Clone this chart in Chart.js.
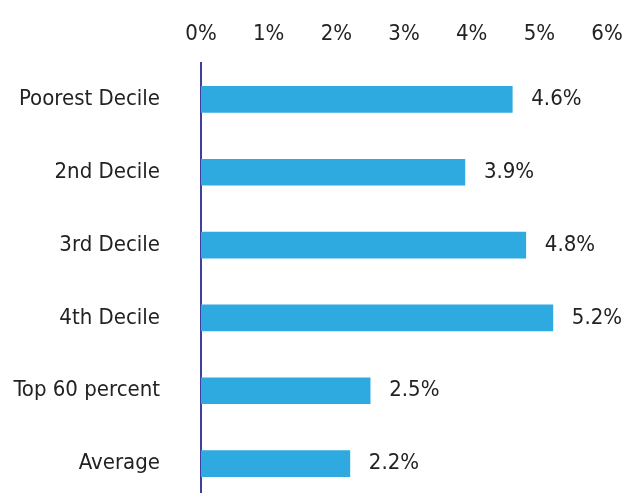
<!DOCTYPE html>
<html>
<head>
<meta charset="utf-8">
<script src="https://cdn.jsdelivr.net/npm/chart.js@4/dist/chart.umd.min.js"></script>
<style>
  html, body { margin: 0; padding: 0; background: #fff; overflow: hidden; }
  #wrap { width: 629px; height: 500px; }
</style>
</head>
<body>
<div id="wrap"><canvas id="bars"></canvas></div>
<script>
var categories = ['Poorest Decile', '2nd Decile', '3rd Decile', '4th Decile', 'Top 60 percent', 'Average'];
var values = [4.6, 3.9, 4.8, 5.2, 2.5, 2.2];
var tickLabels = ['0%', '1%', '2%', '3%', '4%', '5%', '6%'];

var FONT = '"Liberation Sans Narrow", "DejaVu Sans Condensed", "Roboto", sans-serif';

// draws the value text to the right of each bar
var valueLabels = {
  id: 'valueLabels',
  afterDatasetsDraw: function(chart) {
    var ctx = chart.ctx;
    var meta = chart.getDatasetMeta(0);
    ctx.save();
    ctx.font = '22px ' + FONT;
    ctx.fillStyle = '#222';
    ctx.textAlign = 'left';
    ctx.textBaseline = 'middle';
    meta.data.forEach(function(bar, i) {
      ctx.fillText(values[i].toFixed(1) + '%', bar.x + 19, bar.y);
    });
    ctx.restore();
  }
};

function printBarChart() {
  var ctx = document.getElementById('bars');
  var mychart = new Chart(ctx, {
    type: 'bar',
    data: {
      labels: categories,
      datasets: [{
        data: values,
        backgroundColor: '#2EAAE1',
        barThickness: 26
      }]
    },
    options: {
      indexAxis: 'y',
      responsive: true,
      maintainAspectRatio: false,
      animation: false,
      layout: { padding: { right: 22 } },
      plugins: { legend: { display: false }, tooltip: { enabled: false } },
      scales: {
        x: {
          position: 'top',
          min: 0,
          max: 6,
          grid: { display: false },
          border: { display: false },
          afterFit: function(scale) {
            scale.height = 63;
            scale.paddingLeft = 0;
            scale.paddingRight = 0;
          },
          afterBuildTicks: function(scale) {
            scale.ticks = tickLabels.map(function(t, i) { return { value: i }; });
          },
          ticks: {
            padding: 8,
            color: '#222',
            font: { family: FONT, size: 22 },
            callback: function(v, i) { return tickLabels[i]; }
          }
        },
        y: {
          grid: { display: false },
          border: { display: true, color: '#3F3FA0', width: 2 },
          afterFit: function(scale) {
            scale.width = 201;
            scale.paddingTop = 0;
            scale.paddingBottom = 0;
          },
          ticks: {
            padding: 33,
            color: '#222',
            font: { family: FONT, size: 22 }
          }
        }
      }
    },
    plugins: [valueLabels]
  });
}

printBarChart();
</script>
</body>
</html>
